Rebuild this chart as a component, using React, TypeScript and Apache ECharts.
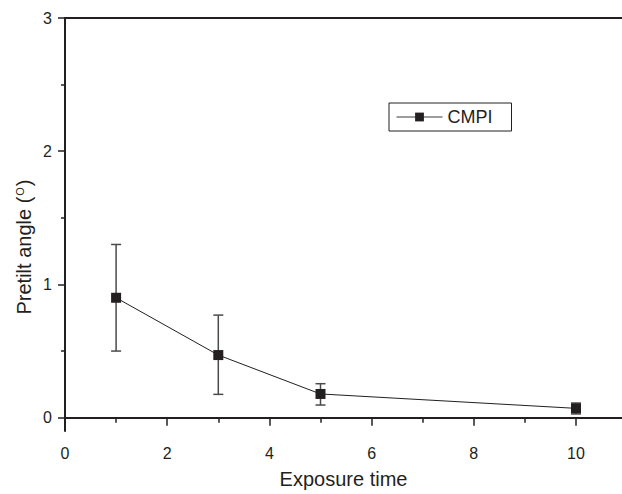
import React, { useEffect, useRef } from "react";
import * as echarts from "echarts";

const xValues = [1, 3, 5, 10];
const meanValues = [0.9, 0.47, 0.178, 0.07];
const lowValues = [0.5, 0.175, 0.095, 0.028];
const highValues = [1.3, 0.77, 0.255, 0.11];
const xTickLabels = [0, 2, 4, 6, 8, 10];
const xMinorTicks = [1, 3, 5, 7, 9];
const yTickLabels = [0, 1, 2, 3];
const yMinorTicks = [0.5, 1.5, 2.5];
const seriesName = "CMPI";

const FONT = "'Liberation Sans', Arial, sans-serif";
const INK = "#231f20";

export default function App() {
  const ref = useRef<HTMLDivElement>(null);
  useEffect(() => {
    if (!ref.current) return;
    const chart = echarts.init(ref.current, undefined, { renderer: "svg" });
    const lineData = xValues.map((x, i) => [x, meanValues[i]]);
    const errData = xValues.map((x, i) => [x, lowValues[i], highValues[i]]);
    const baseX = { min: 0, max: 10.9, type: "value" as const, splitLine: { show: false } };
    const baseY = { min: -0.1, max: 3, type: "value" as const, splitLine: { show: false } };
    chart.setOption({
      animation: false,
      backgroundColor: "#fff",
      grid: { left: 65, top: 18, right: 0, bottom: 63, containLabel: false },
      legend: {
        data: [seriesName],
        left: 389,
        top: 103,
        orient: "horizontal",
        borderColor: INK,
        borderWidth: 1,
        padding: [5, 19, 5, 7],
        itemWidth: 46,
        itemHeight: 11,
        lineStyle: { width: 1, color: "#3a3a3a" },
        textStyle: { fontFamily: FONT, fontSize: 18, color: INK },
      },
      graphic: [
        {
          type: "text",
          x: 24,
          y: 247,
          rotation: Math.PI / 2,
          style: {
            text: "Pretilt angle ({sup|O})",
            fontFamily: FONT,
            fontSize: 20,
            fill: INK,
            align: "center",
            verticalAlign: "middle",
            rich: {
              sup: { fontSize: 11, fontFamily: FONT, fill: INK, verticalAlign: "top", lineHeight: 12, padding: [0, 1, 10, 1] },
            },
          },
        },
      ],
      xAxis: [
        {
          ...baseX,
          position: "bottom",
          axisLine: { show: true, lineStyle: { color: INK, width: 2 } },
          axisTick: { show: true, customValues: xTickLabels, length: 8, lineStyle: { color: INK, width: 1.5 } },
          axisLabel: { customValues: xTickLabels, fontFamily: FONT, fontSize: 16, color: INK, margin: 14 },
          name: "Exposure time",
          nameLocation: "middle",
          nameGap: 38,
          nameTextStyle: { fontFamily: FONT, fontSize: 20, color: INK },
        },
        {
          ...baseX,
          position: "bottom",
          axisLine: { show: false },
          axisTick: { show: true, customValues: xMinorTicks, length: 5, lineStyle: { color: INK, width: 1.5 } },
          axisLabel: { show: false },
        },
        {
          ...baseX,
          position: "top",
          axisLine: { show: true, lineStyle: { color: INK, width: 2 } },
          axisTick: { show: false },
          axisLabel: { show: false },
        },
      ],
      yAxis: [
        {
          ...baseY,
          position: "left",
          axisLine: { show: true, lineStyle: { color: INK, width: 2 } },
          axisTick: { show: true, customValues: yTickLabels, length: 7, lineStyle: { color: INK, width: 1.5 } },
          axisLabel: { customValues: yTickLabels, fontFamily: FONT, fontSize: 16, color: INK, margin: 13 },
        },
        {
          ...baseY,
          position: "left",
          axisLine: { show: false },
          axisTick: { show: true, customValues: yMinorTicks, length: 4, lineStyle: { color: INK, width: 1.5 } },
          axisLabel: { show: false },
        },
      ],
      series: [
        {
          type: "custom",
          name: "err",
          xAxisIndex: 0,
          yAxisIndex: 0,
          z: 1,
          silent: true,
          data: errData,
          renderItem: (params: any, api: any) => {
            const x = api.value(0);
            const lo = api.coord([x, api.value(1)]);
            const hi = api.coord([x, api.value(2)]);
            const w = 5;
            const style = { stroke: "#4a4a4a", lineWidth: 1.5 };
            return {
              type: "group",
              children: [
                { type: "line", shape: { x1: lo[0], y1: lo[1], x2: hi[0], y2: hi[1] }, style },
                { type: "line", shape: { x1: hi[0] - w, y1: hi[1], x2: hi[0] + w, y2: hi[1] }, style },
                { type: "line", shape: { x1: lo[0] - w, y1: lo[1], x2: lo[0] + w, y2: lo[1] }, style },
              ],
            };
          },
        },
        {
          type: "line",
          name: seriesName,
          xAxisIndex: 0,
          yAxisIndex: 0,
          z: 3,
          data: lineData,
          symbol: "rect",
          symbolSize: 10,
          itemStyle: { color: INK },
          lineStyle: { color: INK, width: 1 },
        },
      ],
    });
    return () => chart.dispose();
  }, []);
  return (
    <div
      ref={ref}
      style={{ position: "absolute", left: 0, top: 0, width: 622, height: 494, background: "#fff" }}
    />
  );
}
